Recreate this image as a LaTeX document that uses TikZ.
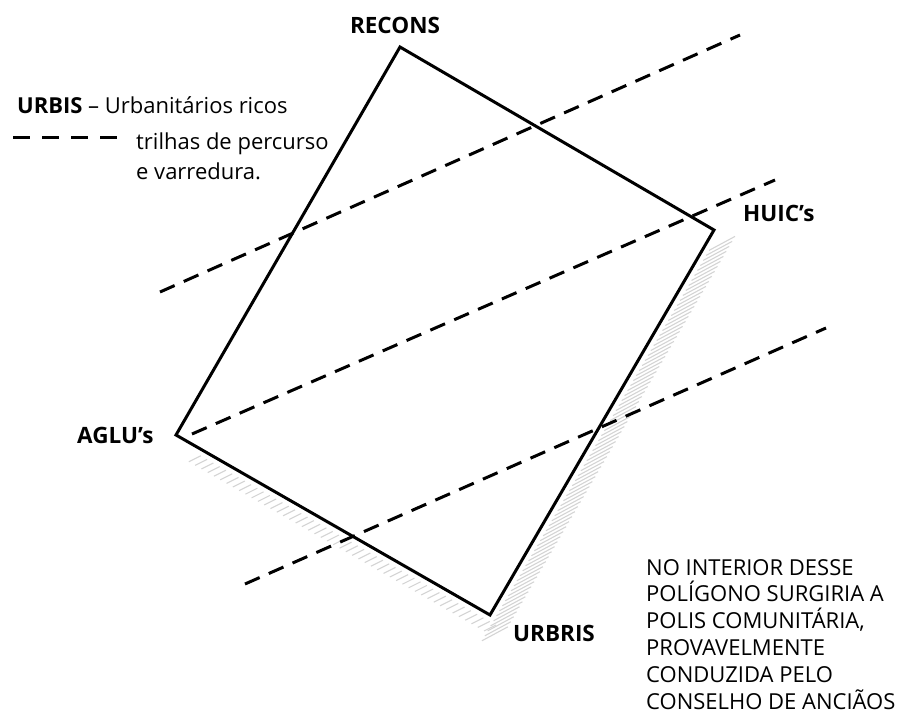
\documentclass[tikz,border=0pt]{standalone}
\usepackage{fontspec}
\setmainfont{Open Sans}
\usetikzlibrary{calc}
\tikzset{
  edge/.style={line width=3pt, line join=miter},
  trail/.style={line width=3pt, dash pattern=on 16pt off 10pt},
  hatch/.style={draw=black!17, line width=1.1pt},
  lbl/.style={inner sep=0pt, font=\fontsize{22.5}{24}\selectfont\bfseries},
  txt/.style={inner sep=0pt, font=\fontsize{22}{26.8}\selectfont},
}
\begin{document}
\begin{tikzpicture}[x=1pt,y=-1pt]
\useasboundingbox (0,0) rectangle (898,723);

% corners of the polygon
\coordinate (R) at (400,47);
\coordinate (H) at (714,230);
\coordinate (U) at (490,615);
\coordinate (A) at (176,435);

% shading along the lower-left and right sides
\foreach \i in {6,8,...,100}
  \draw[hatch] ($(A)!\i/100!(U)+(-6,16)$) -- ++(12,-6);
\foreach \i in {0,...,78}
  \draw[hatch] ($(H)!{(4+1.3*\i)/100}!(U)+(4,5)$) -- ++(26,-14);

% the polygon
\draw[edge] (R) -- (H) -- (U) -- (A) -- cycle;

% sweeping trails
\coordinate (t1a) at (160,292); \coordinate (t1b) at (740,35);
\coordinate (t2a) at (192,434); \coordinate (t2b) at (775,180);
\coordinate (t3a) at (245,584); \coordinate (t3b) at (826,328);
\draw[trail] (t1a) -- (t1b);
\draw[trail] (t2a) -- (t2b);
\draw[trail] (t3a) -- (t3b);

% corner labels
\node[lbl, anchor=base] (recons) at (395,33) {RECONS};
\node[lbl, anchor=base west] (huic) at (743,221) {HUIC’s};
\node[lbl, anchor=base west] (aglu) at (77,443) {AGLU’s};
\node[lbl, anchor=base west] (urbris) at (513,641) {URBRIS};

% legend
\node[txt, anchor=base west] (urbis) at (17,113) {\textbf{URBIS} – Urbanitários ricos};
\coordinate (lg1) at (13,137);
\coordinate (lg2) at (117,137);
\draw[line width=3pt, dash pattern=on 17pt off 12pt] (lg1) -- (lg2);
\node[txt, anchor=base west, align=left, font=\fontsize{22}{30}\selectfont] (trilhas) at (136,179)
  {trilhas de percurso\\e varredura.};

% note (anchored on its last line)
\node[txt, anchor=base west, align=left] (nota) at (646,709)
  {NO INTERIOR DESSE\\POLÍGONO SURGIRIA A\\POLIS COMUNITÁRIA,\\PROVAVELMENTE\\CONDUZIDA PELO\\CONSELHO DE ANCIÃOS};
\end{tikzpicture}
\end{document}
